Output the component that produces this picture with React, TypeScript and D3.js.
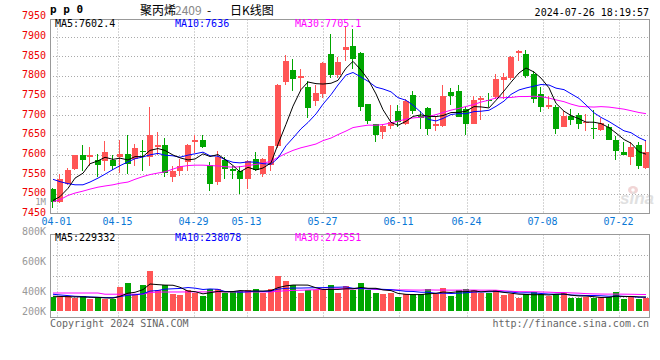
import React from 'react';
import * as d3 from 'd3';

// daily bars, 03-29 .. 07-26
const opens = [7512, 7480, 7525, 7564, 7600, 7595, 7585, 7583, 7585, 7595,
  7602, 7589, 7610, 7595, 7618, 7625, 7542, 7559, 7581, 7631,
  7636, 7574, 7530, 7587, 7564, 7557, 7538, 7589, 7551, 7574,
  7621, 7785, 7815, 7796, 7773, 7736, 7754, 7856, 7802, 7867,
  7875, 7858, 7728, 7679, 7657, 7672, 7712, 7677, 7751, 7698,
  7718, 7672, 7672, 7760, 7762, 7717, 7679, 7738, 7739, 7747,
  7789, 7795, 7858, 7856, 7805, 7754, 7722, 7721, 7670, 7698,
  7700, 7681, 7668, 7662, 7670, 7638, 7606, 7593, 7625, 7567];
const closes = [7480, 7537, 7561, 7598, 7587, 7600, 7574, 7606, 7572, 7602,
  7577, 7617, 7606, 7651, 7625, 7553, 7559, 7570, 7625, 7636,
  7619, 7525, 7595, 7564, 7557, 7538, 7584, 7561, 7589, 7621,
  7777, 7837, 7792, 7799, 7718, 7756, 7832, 7802, 7836, 7873,
  7843, 7721, 7685, 7649, 7672, 7683, 7683, 7736, 7711, 7692,
  7665, 7679, 7749, 7749, 7695, 7679, 7738, 7745, 7736, 7792,
  7798, 7849, 7863, 7799, 7741, 7721, 7725, 7666, 7698, 7687,
  7679, 7683, 7664, 7681, 7636, 7610, 7600, 7618, 7571, 7606];
const highs = [7516, 7551, 7565, 7600, 7624, 7618, 7601, 7634, 7600, 7636,
  7651, 7628, 7636, 7721, 7658, 7641, 7571, 7589, 7628, 7651,
  7651, 7580, 7608, 7595, 7570, 7570, 7587, 7606, 7591, 7623,
  7779, 7854, 7843, 7818, 7788, 7777, 7835, 7908, 7848, 7926,
  7920, 7861, 7728, 7679, 7679, 7726, 7726, 7741, 7762, 7711,
  7722, 7698, 7777, 7769, 7777, 7722, 7748, 7748, 7757, 7805,
  7807, 7852, 7866, 7866, 7813, 7771, 7749, 7725, 7711, 7715,
  7705, 7702, 7713, 7692, 7678, 7647, 7632, 7632, 7631, 7636];
const lows = [7463, 7477, 7523, 7561, 7559, 7570, 7542, 7559, 7561, 7553,
  7551, 7570, 7557, 7572, 7600, 7544, 7531, 7546, 7557, 7604,
  7617, 7506, 7523, 7537, 7537, 7499, 7512, 7557, 7544, 7559,
  7617, 7777, 7762, 7762, 7692, 7724, 7745, 7796, 7796, 7838,
  7818, 7711, 7677, 7631, 7640, 7664, 7671, 7674, 7702, 7665,
  7651, 7659, 7671, 7725, 7695, 7649, 7677, 7688, 7722, 7742,
  7741, 7790, 7837, 7796, 7732, 7708, 7715, 7653, 7670, 7674,
  7664, 7661, 7640, 7659, 7636, 7585, 7600, 7574, 7564, 7564];
const volumes = [231000, 231000, 242000, 215000, 242000, 205000, 215000, 205000, 193000, 396000,
  462000, 287000, 424000, 660000, 341000, 424000, 275000, 259000, 341000, 297000,
  242000, 370000, 370000, 297000, 325000, 325000, 341000, 358000, 297000, 358000,
  572000, 490000, 424000, 297000, 353000, 353000, 353000, 424000, 297000, 407000,
  353000, 462000, 353000, 297000, 275000, 297000, 231000, 275000, 275000, 275000,
  358000, 275000, 380000, 242000, 341000, 358000, 341000, 297000, 297000, 341000,
  259000, 275000, 215000, 275000, 314000, 275000, 242000, 275000, 297000, 215000,
  215000, 231000, 221000, 231000, 231000, 314000, 193000, 231000, 193000, 221000];

// moving-average values before a full window exists
const ma5Head = [7483, 7493, 7514, 7540];
const ma10Head = [7537, 7531, 7526, 7523, 7523, 7530, 7540, 7550, 7562];
const ma30Head = [7480, 7485, 7496, 7502, 7507, 7512, 7517, 7520, 7523, 7527,
  7530, 7537, 7544, 7549, 7553, 7556, 7563, 7569, 7572, 7573,
  7573, 7572, 7571, 7569, 7568, 7569, 7572, 7575, 7578];
const volMa5Head = [243000, 240000, 236000, 233000];
const volMa10Head = [276000, 265000, 254000, 243000, 238000, 232000, 227000, 221000, 221000];
const volMa30Head = [297000, 297000, 297000, 297000, 297000, 297000, 297000, 277000, 277000, 277000,
  277000, 277000, 277000, 305000, 313000, 313000, 314000, 314000, 315000, 315000,
  315000, 316000, 316000, 316000, 315000, 315000, 315000, 314000, 314000];

const tickIndex = [1, 9, 19, 26, 36, 46, 55, 65, 75];
const tickLabels = ['04-01', '04-15', '04-29', '05-13', '05-27', '06-11', '06-24', '07-08', '07-22'];
const priceTicks = [7450, 7500, 7550, 7600, 7650, 7700, 7750, 7800, 7850, 7900, 7950];
const volTicks = [800000, 600000, 400000, 200000];
const volTickLabels = ['800K', '600K', '400K', '200K'];

const RED = '#ff5555';
const GREEN = '#00a600';
const MONO = '"DejaVu Sans Mono", monospace';

function movingAvg(values, n, head) {
  return values.map((v, i) => (i < n - 1 ? head[i] : d3.mean(values.slice(i - n + 1, i + 1))));
}

const App = () => {
  const left = 50;
  const right = 650;
  const mainTop = 19.5;
  const mainBottom = 213.5;
  const volTop = 234.5;
  const volBottom = 317.5;
  const volBase = 311;

  const idx = d3.range(closes.length);
  const xBand = d3.scaleBand().domain(idx).range([49.5, 649.5]).paddingInner(0.2).paddingOuter(0);
  const bx = i => Math.round(xBand(i));
  const cx = i => bx(i) + 3;
  const xTick = d3.scaleLinear().domain([0, closes.length - 1]).range([left, right]);
  const yP = d3.scaleLinear().domain([7450, 7950]).range([mainBottom, 17]);
  const yV = d3.scaleLinear().domain([0, 1000000]).range([volBase, 250.4]);
  const yVLabel = d3.scaleLinear().domain([800000, 200000]).range([231, 321]);

  const ma5 = movingAvg(closes, 5, ma5Head);
  const ma10 = movingAvg(closes, 10, ma10Head);
  const ma30 = movingAvg(closes, 30, ma30Head);
  const vma5 = movingAvg(volumes, 5, volMa5Head);
  const vma10 = movingAvg(volumes, 10, volMa10Head);
  const vma30 = movingAvg(volumes, 30, volMa30Head);

  const priceLine = d3.line().x((d, i) => cx(i)).y(d => yP(d));
  const volLine = d3.line().x((d, i) => cx(i)).y(d => yV(d));

  const gridX = tickIndex.map(k => Math.floor(xTick(k)) + 0.5);
  const volGridY = d3.range(1, 4).map(k => Math.round(volTop + (k * (volBottom - volTop)) / 4) + 0.5);

  return (
    <svg width={660} height={360} style={{ position: 'absolute', left: 0, top: 0, background: '#fff' }}>
      {/* grid */}
      <g stroke="#aaa" strokeWidth={1} strokeDasharray="1,2">
        {priceTicks.slice(1, -1).map(p => (
          <line key={p} x1={left} x2={right} y1={Math.round(yP(p)) + 0.5} y2={Math.round(yP(p)) + 0.5} />
        ))}
        {gridX.map(x => (
          <line key={'m' + x} x1={x} x2={x} y1={mainTop} y2={mainBottom} />
        ))}
        {gridX.map(x => (
          <line key={'v' + x} x1={x} x2={x} y1={volTop} y2={volBottom} />
        ))}
        {volGridY.map(y => (
          <line key={'h' + y} x1={left} x2={right} y1={y} y2={y} />
        ))}
      </g>

      {/* sina watermark */}
      <g opacity={0.55}>
        <ellipse cx={633} cy={190} rx={5} ry={4} fill="#e6b4b4" />
        <circle cx={633} cy={190} r={1.8} fill="#fff" />
        <text x={620} y={204} fontFamily="Arial, sans-serif" fontSize={17} fontStyle="italic" fontWeight="bold" fill="#c8c8c8">sina</text>
      </g>

      {/* candles */}
      {idx.map(i => {
        const up = closes[i] >= opens[i];
        const col = up ? RED : GREEN;
        const yTop = Math.round(yP(Math.max(opens[i], closes[i])));
        const yBot = Math.round(yP(Math.min(opens[i], closes[i])));
        return (
          <g key={i}>
            <line x1={bx(i) + 2.5} x2={bx(i) + 2.5} y1={Math.round(yP(highs[i]))} y2={Math.round(yP(lows[i]))} stroke={col} strokeWidth={1} />
            <rect x={bx(i)} y={yTop} width={6} height={Math.max(1, yBot - yTop)} fill={col} />
          </g>
        );
      })}

      {/* volume bars */}
      {idx.map(i => {
        const up = closes[i] >= opens[i];
        const y = Math.round(yV(volumes[i]));
        return <rect key={'vb' + i} x={bx(i)} y={y} width={6} height={volBase - y} fill={up ? RED : GREEN} />;
      })}

      {/* moving averages */}
      <g fill="none" strokeWidth={1}>
        <path d={priceLine(ma30)} stroke="#ff00ff" />
        <path d={priceLine(ma10)} stroke="#0000ff" />
        <path d={priceLine(ma5)} stroke="#000" />
        <path d={volLine(vma30)} stroke="#ff00ff" />
        <path d={volLine(vma10)} stroke="#0000ff" />
        <path d={volLine(vma5)} stroke="#000" />
      </g>

      {/* frames */}
      <g fill="none" stroke="#999" strokeWidth={1}>
        <rect x={left + 0.5} y={mainTop} width={right - left - 1} height={mainBottom - mainTop} />
        <rect x={left + 0.5} y={volTop} width={right - left - 1} height={volBottom - volTop} />
      </g>

      {/* price axis */}
      <g fontFamily={MONO} fontSize={10} fill="#ee0000" textAnchor="end">
        {priceTicks.map(p => (
          <text key={p} x={46} y={yP(p) + 2.3}>{p}</text>
        ))}
      </g>
      <text x={46} y={205} fontFamily={MONO} fontSize={9} fill="#999" textAnchor="end">1M</text>

      {/* date axis */}
      <g fontFamily={MONO} fontSize={10} fill="#0a78d6" textAnchor="middle">
        {tickLabels.map((t, j) => (
          <text key={t} x={gridX[j] - 1} y={225.3}>{t}</text>
        ))}
      </g>

      {/* volume axis */}
      <g fontFamily={MONO} fontSize={10} fill="#999" textAnchor="end">
        {volTicks.map((v, j) => (
          <text key={v} x={46} y={Math.min(yVLabel(v), volBase) + 3.6}>{volTickLabels[j]}</text>
        ))}
      </g>

      {/* headers */}
      <text x={50} y={13} fontFamily={MONO} fontSize={11} fontWeight="bold" fill="#000">p p 0</text>
      <text y={14.5} fontFamily='"Noto Sans CJK SC", sans-serif' fontSize={12} fill="#000">
        <tspan x={140}>聚丙烯</tspan>
        <tspan x={175} fill="#888">2409</tspan>
        <tspan x={207}>-</tspan>
        <tspan x={230}>日K线图</tspan>
      </text>
      <text x={649} y={15.5} fontFamily={MONO} fontSize={10} fill="#000" textAnchor="end">2024-07-26 18:19:57</text>

      <g fontFamily={MONO} fontSize={10}>
        <text x={55} y={27} fill="#000">MA5:7602.4</text>
        <text x={175} y={27} fill="#0000ff">MA10:7636</text>
        <text x={295} y={27} fill="#ff00ff">MA30:7705.1</text>
        <text x={55} y={241.3} fill="#000">MA5:229332</text>
        <text x={175} y={241.3} fill="#0000ff">MA10:238078</text>
        <text x={295} y={241.3} fill="#ff00ff">MA30:272551</text>
      </g>

      <g fontFamily={MONO} fontSize={10} fill="#666">
        <text x={50} y={327}>Copyright 2024 SINA.COM</text>
        <text x={649} y={327} textAnchor="end">http://finance.sina.com.cn</text>
      </g>
    </svg>
  );
};

export default App;
